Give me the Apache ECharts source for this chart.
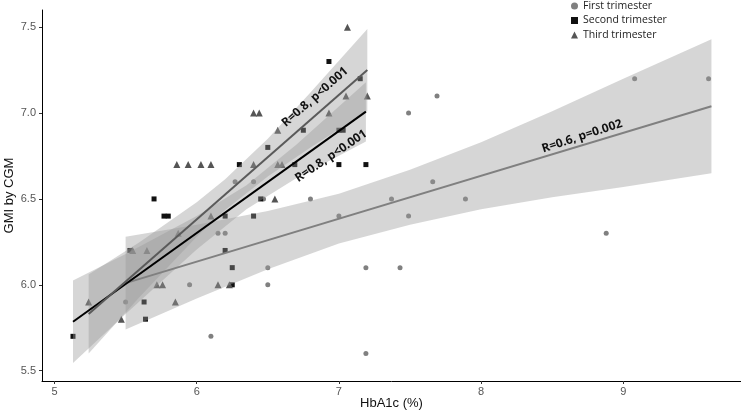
<!DOCTYPE html>
<html>
<head>
<meta charset="utf-8">
<script src="https://cdn.jsdelivr.net/npm/echarts@6/dist/echarts.min.js"></script>
<style>html,body{margin:0;padding:0;background:#fff}#c{width:741px;height:414px}</style>
</head>
<body>
<div id="c"></div>
<script>
// ---- data ----
const groupNames = ['First trimester', 'Second trimester', 'Third trimester'];

const firstX  = [5.50,5.95,6.10,6.15,6.20,6.27,6.40,6.47,6.50,6.50,6.80,7.00,7.19,7.19,7.37,7.43,7.49,7.49,7.66,7.69,7.89,8.88,9.08,9.60];
const firstY  = [5.9, 6.0, 5.7, 6.3, 6.3, 6.6, 6.6, 6.5, 6.1, 6.0, 6.5, 6.4, 6.1, 5.6, 6.5, 6.1, 7.0, 6.4, 6.6, 7.1, 6.5, 6.3, 7.2, 7.2];

const secondX = [5.13,5.53,5.63,5.64,5.70,5.77,5.80,6.20,6.20,6.25,6.25,6.30,6.40,6.45,6.50,6.69,6.75,6.93,7.00,7.03,7.00,7.15,7.19];
const secondY = [5.7, 6.2, 5.9, 5.8, 6.5, 6.4, 6.4, 6.4, 6.2, 6.1, 6.0, 6.7, 6.4, 6.5, 6.8, 6.7, 6.9, 7.3, 6.9, 6.9, 6.7, 7.2, 6.7];

const thirdX  = [5.24,5.47,5.55,5.65,5.72,5.76,5.85,5.87,5.86,5.94,6.03,6.10,6.10,6.15,6.23,6.40,6.40,6.44,6.55,6.57,6.57,6.60,6.93,7.05,7.06,7.20];
const thirdY  = [5.9, 5.8, 6.2, 6.2, 6.0, 6.0, 5.9, 6.3, 6.7, 6.7, 6.7, 6.7, 6.4, 6.0, 6.0, 6.7, 7.0, 7.0, 6.5, 6.9, 6.7, 6.7, 7.0, 7.1, 7.5, 7.1];

// fitted lines (end points)
const firstFitX  = [5.50, 9.62];
const firstFitY  = [6.01, 7.04];
const secondFitX = [5.13, 7.19];
const secondFitY = [5.785, 7.008];
const thirdFitX  = [5.24, 7.20];
const thirdFitY  = [5.83, 7.25];

// confidence bands
const firstBandX  = [5.50, 6.00, 6.50, 7.00, 7.50, 8.00, 8.50, 9.00, 9.62];
const firstBandLo = [5.74, 5.92, 6.09, 6.24, 6.35, 6.44, 6.51, 6.57, 6.65];
const firstBandHi = [6.28, 6.35, 6.43, 6.53, 6.67, 6.83, 7.01, 7.20, 7.43];

const secondBandX  = [5.13, 5.50, 6.00, 6.35, 6.70, 7.19];
const secondBandLo = [5.545, 5.83, 6.205, 6.44, 6.62, 6.835];
const secondBandHi = [6.025, 6.18, 6.40, 6.58, 6.815, 7.18];

const thirdBandX  = [5.24, 5.60, 6.00, 6.20, 6.50, 6.80, 7.20];
const thirdBandLo = [5.60, 5.93, 6.28, 6.435, 6.63, 6.80, 7.01];
const thirdBandHi = [6.06, 6.25, 6.48, 6.615, 6.85, 7.12, 7.49];

// annotation texts
const annotText = ['R=0.6, p=0.002', 'R=0.8, p<0.001', 'R=0.8, p<0.001'];
const annotX    = [8.71, 6.945, 6.832];
const annotY    = [6.865, 6.75, 7.093];

// axis ticks
const xTicks = [5, 6, 7, 8, 9];
const yTicks = [5.5, 6.0, 6.5, 7.0, 7.5];

// ---- styles ----
const groupColors = ['#808080', '#111111', '#555555'];
const lineColors  = ['#808080', '#000000', '#5a5a5a'];
const symbols     = ['circle', 'rect', 'triangle'];
const symbolSizes = [5, 5, 7];
const bandFill = 'rgba(153,153,153,0.4)';
const annotAngles = [18, 34, 41.2];

const zip = (xs, ys) => xs.map((x, i) => [x, ys[i]]);

function bandSeries(xs, lo, hi) {
  return {
    type: 'custom', silent: true, z: 3,
    data: xs.map((x, i) => [x, lo[i], hi[i]]),
    encode: { x: 0, y: [1, 2] },
    renderItem: function (params, api) {
      if (params.dataIndex !== 0) return null;
      const pts = [];
      for (let i = 0; i < xs.length; i++) pts.push(api.coord([xs[i], hi[i]]));
      for (let i = xs.length - 1; i >= 0; i--) pts.push(api.coord([xs[i], lo[i]]));
      return { type: 'polygon', shape: { points: pts }, style: { fill: bandFill } };
    }
  };
}
function lineSeries(xs, ys, color) {
  return {
    type: 'line', silent: true, z: 4, symbol: 'none',
    data: zip(xs, ys),
    lineStyle: { color: color, width: 2 }
  };
}

const pointsX = [firstX, secondX, thirdX];
const pointsY = [firstY, secondY, thirdY];
const series = [];
groupNames.forEach((name, g) => {
  series.push({
    name: name, type: 'scatter', z: 2, silent: true,
    symbol: symbols[g], symbolSize: symbolSizes[g],
    itemStyle: { color: groupColors[g], opacity: 1 },
    data: zip(pointsX[g], pointsY[g])
  });
});
series.push(bandSeries(firstBandX, firstBandLo, firstBandHi));
series.push(lineSeries(firstFitX, firstFitY, lineColors[0]));
series.push(bandSeries(secondBandX, secondBandLo, secondBandHi));
series.push(lineSeries(secondFitX, secondFitY, lineColors[1]));
series.push(bandSeries(thirdBandX, thirdBandLo, thirdBandHi));
series.push(lineSeries(thirdFitX, thirdFitY, lineColors[2]));
series.push({
  type: 'custom', silent: true, z: 6,
  data: annotX.map((x, i) => [x, annotY[i], i]),
  encode: { x: 0, y: 1 },
  renderItem: function (params, api) {
    const i = params.dataIndex;
    const p = api.coord([annotX[i], annotY[i]]);
    return {
      type: 'text', x: p[0], y: p[1], rotation: annotAngles[i] * Math.PI / 180,
      style: { text: annotText[i], fill: '#111', font: 'bold 12px "Open Sans"', align: 'center', verticalAlign: 'middle' }
    };
  }
});

const chart = echarts.init(document.getElementById('c'), null, { renderer: 'canvas' });
chart.setOption({
  animation: false,
  backgroundColor: '#fff',
  grid: { left: 42, right: 0, top: 10, bottom: 33, containLabel: false, outerBoundsMode: 'none' },
  legend: {
    data: groupNames, orient: 'vertical', left: 571, top: 0.5, padding: 0,
    itemGap: 3.5, itemWidth: 7, itemHeight: 7, selectedMode: false,
    textStyle: { fontFamily: 'Open Sans', fontSize: 10.5, color: '#222' }
  },
  xAxis: {
    type: 'value', min: 4.912, max: 9.828,
    name: 'HbA1c (%)', nameLocation: 'middle', nameGap: 16, nameMoveOverlap: false,
    nameTextStyle: { fontFamily: 'Liberation Sans', fontSize: 13, color: '#111' },
    axisLine: { show: true, onZero: false, lineStyle: { color: '#000', width: 1 } },
    axisTick: { show: true, length: 3, customValues: xTicks, lineStyle: { color: '#333' } },
    axisLabel: { customValues: xTicks, fontFamily: 'Liberation Sans', fontSize: 11, color: '#555', margin: 5 },
    splitLine: { show: false }
  },
  yAxis: {
    type: 'value', min: 5.44, max: 7.6,
    name: 'GMI by CGM', nameLocation: 'middle', nameGap: 26, nameRotate: 90, nameMoveOverlap: false,
    nameTextStyle: { fontFamily: 'Liberation Sans', fontSize: 13, color: '#111' },
    axisLine: { show: true, onZero: false, lineStyle: { color: '#000', width: 1 } },
    axisTick: { show: true, length: 3, customValues: yTicks, lineStyle: { color: '#333' } },
    axisLabel: { customValues: yTicks, formatter: v => v.toFixed(1), fontFamily: 'Liberation Sans', fontSize: 11, color: '#555', margin: 6 },
    splitLine: { show: false }
  },
  series: series
});
</script>
</body>
</html>
